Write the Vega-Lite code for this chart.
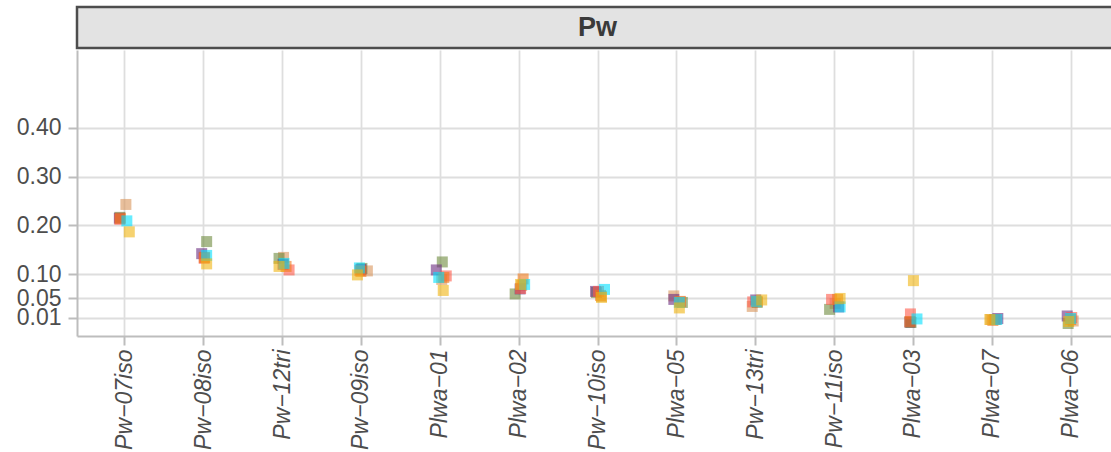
{
  "$schema": "https://vega.github.io/schema/vega-lite/v6.json",
  "padding": {"left": 16, "top": 5, "right": 0, "bottom": 0},
  "spacing": 0,
  "config": {"view": {"stroke": null}, "font": "Liberation Sans"},
  "data": {"values": [
    {"c":"Pw−07iso","x":1.02,"v":0.243,"g":"A"},
    {"c":"Pw−07iso","x":0.943,"v":0.2165,"g":"B"},
    {"c":"Pw−07iso","x":0.937,"v":0.2146,"g":"C"},
    {"c":"Pw−07iso","x":0.943,"v":0.2124,"g":"D"},
    {"c":"Pw−07iso","x":0.95,"v":0.2146,"g":"E"},
    {"c":"Pw−07iso","x":1.032,"v":0.2093,"g":"F"},
    {"c":"Pw−07iso","x":1.063,"v":0.1867,"g":"G"},
    {"c":"Pw−08iso","x":2.013,"v":0.1343,"g":"A"},
    {"c":"Pw−08iso","x":2.044,"v":0.1668,"g":"B"},
    {"c":"Pw−08iso","x":1.981,"v":0.142,"g":"C"},
    {"c":"Pw−08iso","x":2.013,"v":0.1323,"g":"D"},
    {"c":"Pw−08iso","x":2.019,"v":0.1343,"g":"E"},
    {"c":"Pw−08iso","x":2.044,"v":0.1384,"g":"F"},
    {"c":"Pw−08iso","x":2.044,"v":0.121,"g":"G"},
    {"c":"Pw−12tri","x":3.019,"v":0.1343,"g":"A"},
    {"c":"Pw−12tri","x":2.962,"v":0.1323,"g":"B"},
    {"c":"Pw−12tri","x":3.013,"v":0.12,"g":"C"},
    {"c":"Pw−12tri","x":3.089,"v":0.1086,"g":"D"},
    {"c":"Pw−12tri","x":3.051,"v":0.1158,"g":"E"},
    {"c":"Pw−12tri","x":3.025,"v":0.122,"g":"F"},
    {"c":"Pw−12tri","x":2.962,"v":0.1158,"g":"G"},
    {"c":"Pw−09iso","x":4.082,"v":0.1066,"g":"A"},
    {"c":"Pw−09iso","x":4.013,"v":0.1117,"g":"B"},
    {"c":"Pw−09iso","x":4.0,"v":0.1097,"g":"C"},
    {"c":"Pw−09iso","x":3.987,"v":0.1076,"g":"D"},
    {"c":"Pw−09iso","x":4.0,"v":0.1055,"g":"E"},
    {"c":"Pw−09iso","x":3.981,"v":0.1127,"g":"F"},
    {"c":"Pw−09iso","x":3.956,"v":0.0984,"g":"G"},
    {"c":"Plwa−01","x":5.025,"v":0.0891,"g":"A"},
    {"c":"Plwa−01","x":5.032,"v":0.125,"g":"B"},
    {"c":"Plwa−01","x":4.956,"v":0.1086,"g":"C"},
    {"c":"Plwa−01","x":5.082,"v":0.0963,"g":"D"},
    {"c":"Plwa−01","x":5.051,"v":0.0932,"g":"E"},
    {"c":"Plwa−01","x":4.987,"v":0.0932,"g":"F"},
    {"c":"Plwa−01","x":5.044,"v":0.0665,"g":"G"},
    {"c":"Plwa−02","x":6.038,"v":0.0768,"g":"A"},
    {"c":"Plwa−02","x":5.956,"v":0.0593,"g":"B"},
    {"c":"Plwa−02","x":6.019,"v":0.0696,"g":"C"},
    {"c":"Plwa−02","x":6.025,"v":0.0706,"g":"D"},
    {"c":"Plwa−02","x":6.057,"v":0.0901,"g":"E"},
    {"c":"Plwa−02","x":6.076,"v":0.0788,"g":"F"},
    {"c":"Plwa−02","x":6.025,"v":0.0788,"g":"G"},
    {"c":"Pw−10iso","x":7.051,"v":0.0542,"g":"A"},
    {"c":"Pw−10iso","x":6.987,"v":0.0624,"g":"B"},
    {"c":"Pw−10iso","x":6.975,"v":0.0645,"g":"C"},
    {"c":"Pw−10iso","x":7.013,"v":0.0645,"g":"D"},
    {"c":"Pw−10iso","x":7.038,"v":0.0563,"g":"E"},
    {"c":"Pw−10iso","x":7.089,"v":0.0686,"g":"F"},
    {"c":"Pw−10iso","x":7.051,"v":0.0522,"g":"G"},
    {"c":"Plwa−05","x":7.968,"v":0.0553,"g":"A"},
    {"c":"Plwa−05","x":8.076,"v":0.0419,"g":"B"},
    {"c":"Plwa−05","x":7.968,"v":0.0481,"g":"C"},
    {"c":"Plwa−05","x":8.044,"v":0.043,"g":"D"},
    {"c":"Plwa−05","x":8.051,"v":0.044,"g":"E"},
    {"c":"Plwa−05","x":8.038,"v":0.0419,"g":"F"},
    {"c":"Plwa−05","x":8.038,"v":0.0306,"g":"G"},
    {"c":"Pw−13tri","x":8.962,"v":0.0337,"g":"A"},
    {"c":"Pw−13tri","x":9.025,"v":0.0419,"g":"B"},
    {"c":"Pw−13tri","x":9.006,"v":0.047,"g":"C"},
    {"c":"Pw−13tri","x":8.968,"v":0.043,"g":"D"},
    {"c":"Pw−13tri","x":9.025,"v":0.044,"g":"E"},
    {"c":"Pw−13tri","x":9.013,"v":0.044,"g":"F"},
    {"c":"Pw−13tri","x":9.082,"v":0.047,"g":"G"},
    {"c":"Pw−11iso","x":10.013,"v":0.0399,"g":"A"},
    {"c":"Pw−11iso","x":9.943,"v":0.0276,"g":"B"},
    {"c":"Pw−11iso","x":10.057,"v":0.0327,"g":"C"},
    {"c":"Pw−11iso","x":9.968,"v":0.0481,"g":"D"},
    {"c":"Pw−11iso","x":10.044,"v":0.0481,"g":"E"},
    {"c":"Pw−11iso","x":10.076,"v":0.0327,"g":"F"},
    {"c":"Pw−11iso","x":10.076,"v":0.0501,"g":"G"},
    {"c":"Plwa−03","x":10.962,"v":0.0008,"g":"A"},
    {"c":"Plwa−03","x":10.975,"v":0.0008,"g":"B"},
    {"c":"Plwa−03","x":10.962,"v":0.0018,"g":"C"},
    {"c":"Plwa−03","x":10.968,"v":0.0183,"g":"D"},
    {"c":"Plwa−03","x":10.962,"v":0.0028,"g":"E"},
    {"c":"Plwa−03","x":11.051,"v":0.008,"g":"F"},
    {"c":"Plwa−03","x":11.006,"v":0.0866,"g":"G"},
    {"c":"Plwa−07","x":11.987,"v":0.0069,"g":"A"},
    {"c":"Plwa−07","x":12.038,"v":0.0069,"g":"B"},
    {"c":"Plwa−07","x":12.076,"v":0.0089,"g":"C"},
    {"c":"Plwa−07","x":12.051,"v":0.0069,"g":"D"},
    {"c":"Plwa−07","x":12.013,"v":0.0049,"g":"E"},
    {"c":"Plwa−07","x":12.063,"v":0.0069,"g":"F"},
    {"c":"Plwa−07","x":11.975,"v":0.0069,"g":"G"},
    {"c":"Plwa−06","x":13.032,"v":0.0038,"g":"A"},
    {"c":"Plwa−06","x":12.968,"v":-0.0013,"g":"B"},
    {"c":"Plwa−06","x":12.956,"v":0.0141,"g":"C"},
    {"c":"Plwa−06","x":13.013,"v":0.011,"g":"D"},
    {"c":"Plwa−06","x":13.0,"v":0.0069,"g":"E"},
    {"c":"Plwa−06","x":13.0,"v":0.0089,"g":"F"},
    {"c":"Plwa−06","x":12.975,"v":0.0028,"g":"G"}
  ]},
  "vconcat": [
    {
      "width": 1041,
      "height": 41,
      "data": {"values": [{"label": "Pw"}]},
      "view": {"fill": "#E3E3E3", "stroke": "#4D4D4D", "strokeWidth": 2.5},
      "mark": {"type": "text", "fontSize": 27, "fontWeight": "bold", "color": "#3A3A3A", "baseline": "middle", "align": "center"},
      "encoding": {"text": {"field": "label", "type": "nominal"}}
    },
    {
      "width": 1041,
      "height": 286,
      "mark": {"type": "square", "size": 121, "opacity": 0.6},
      "encoding": {
        "x": {
          "field": "x", "type": "quantitative",
          "scale": {"domain": [0.4, 13.6], "nice": false, "zero": false},
          "axis": {
            "values": [1,2,3,4,5,6,7,8,9,10,11,12,13],
            "labelExpr": "['Pw−07iso','Pw−08iso','Pw−12tri','Pw−09iso','Plwa−01','Plwa−02','Pw−10iso','Plwa−05','Pw−13tri','Pw−11iso','Plwa−03','Plwa−07','Plwa−06'][datum.value-1]",
            "title": null,
            "labelAngle": 270, "labelAlign": "right", "labelBaseline": "middle",
            "labelFontSize": 23, "labelFontStyle": "italic", "labelColor": "#4D4D4D",
            "labelPadding": 4, "labelOverlap": false, "labelFlush": false, "labelBound": false,
            "tickSize": 9, "tickColor": "#BDBDBD", "tickWidth": 2,
            "domainColor": "#BDBDBD", "domainWidth": 2,
            "gridColor": "#DEDEDE", "gridWidth": 1.8
          }
        },
        "y": {
          "field": "v", "type": "quantitative",
          "scale": {"domain": [-0.027, 0.56], "nice": false, "zero": false},
          "axis": {
            "values": [0.01, 0.05, 0.1, 0.2, 0.3, 0.4],
            "format": ".2f",
            "title": null,
            "labelFontSize": 23, "labelColor": "#4D4D4D", "labelPadding": 7,
            "labelOverlap": false, "labelFlush": false, "labelBound": false,
            "tickSize": 9, "tickColor": "#BDBDBD", "tickWidth": 2,
            "domainColor": "#BDBDBD", "domainWidth": 2,
            "gridColor": "#DEDEDE", "gridWidth": 1.8
          }
        },
        "color": {
          "field": "g", "type": "nominal",
          "scale": {"domain": ["A","B","C","D","E","F","G"], "range": ["#D8955A","#6E8B3D","#6A2C7E","#FF5A4A","#F07A1A","#00E0FF","#F0B410"]},
          "legend": null
        }
      }
    }
  ]
}
